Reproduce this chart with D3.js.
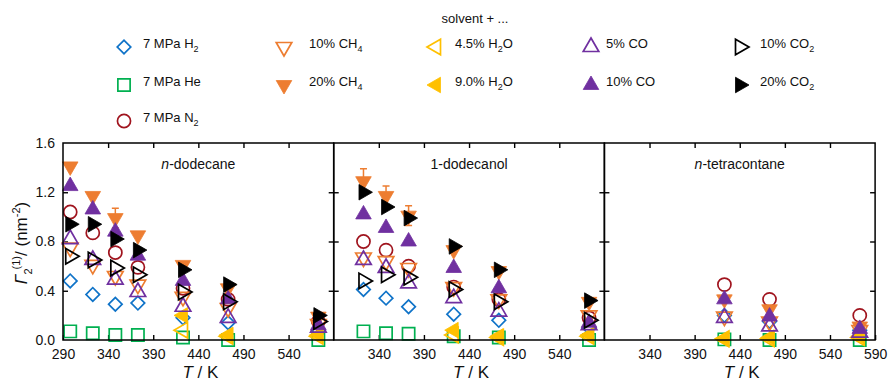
<!DOCTYPE html>
<html lang="en">
<head>
    <meta charset="UTF-8">
    <script src="https://d3js.org/d3.v7.min.js"></script>
    <title>Gamma2 vs T</title>
    <style>
        body { margin: 0px; background: #fff; }
        svg { font-family: "Liberation Sans", Arial, sans-serif; }
    </style>
</head>
<body>
<svg id="chart" width="896" height="386"></svg>
<script>
    // panels and their temperatures (K)
    const panelNames = ['n-dodecane', '1-dodecanol', 'n-tetracontane'];
    const tDodecane = [298, 323, 348, 373, 423, 473, 573];
    const tDodecanol = [323, 348, 373, 423, 473, 573];
    const tTetracontane = [423, 473, 573];
    const xTicksShown = [[290, 340, 390, 440, 490, 540], [340, 390, 440, 490, 540], [340, 390, 440, 490, 540, 590]];
    const yTicks = [0, 0.4, 0.8, 1.2, 1.6];

    // Gamma2(1) / nm^-2, one sub-array per panel
    const h2 = [[0.48, 0.37, 0.29, 0.30, 0.18, 0.14, 0.08], [0.41, 0.34, 0.27, 0.21, 0.16, 0.10], [0.20, 0.15, 0.08]];
    const he = [[0.07, 0.055, 0.04, 0.04, 0.02, 0.0, 0.0], [0.07, 0.055, 0.05, 0.03, 0.02, 0.0], [0.005, 0.0, 0.0]];
    const n2 = [[1.04, 0.87, 0.71, 0.59, 0.42, 0.33, 0.15], [0.80, 0.73, 0.60, 0.43, 0.33, 0.18], [0.45, 0.33, 0.20]];
    const ch4_10 = [[0.75, 0.61, 0.52, 0.45, 0.35, 0.26, 0.13], [0.67, 0.64, 0.585, 0.43, 0.33, 0.20], [0.19, 0.15, 0.08]];
    const ch4_20 = [[1.41, 1.17, 0.99, 0.85, 0.61, 0.42, 0.19], [1.29, 1.17, 1.01, 0.73, 0.56, 0.31], [0.33, 0.25, 0.11]];
    const ch4_20err = [[0, 0, 0.08, 0, 0, 0, 0], [0.10, 0.08, 0.08, 0, 0, 0], [0, 0, 0]];
    const h2o_45 = [[null, null, null, null, 0.08, 0.03, 0.03], [null, null, null, 0.04, 0.02, 0.03], [0.01, 0.01, 0.02]];
    const h2o_90 = [[null, null, null, null, 0.20, 0.04, 0.04], [null, null, null, 0.08, 0.03, 0.04], [0.005, 0.02, 0.03]];
    const co_5 = [[0.82, 0.65, 0.49, 0.39, 0.27, 0.18, 0.10], [0.65, 0.585, 0.46, 0.34, 0.23, 0.12], [0.18, 0.11, 0.06]];
    const co_10 = [[1.25, 1.06, 0.88, 0.685, 0.48, 0.33, 0.12], [1.02, 0.91, 0.80, 0.585, 0.42, 0.14], [0.33, 0.19, 0.09]];
    const co2_10 = [[0.68, 0.65, 0.585, 0.53, 0.39, 0.31, 0.15], [0.48, 0.53, 0.51, 0.41, 0.31, 0.16], []];
    const co2_20 = [[0.94, 0.94, 0.82, 0.73, 0.57, 0.45, 0.20], [1.20, 1.08, 0.99, 0.76, 0.57, 0.32], []];

    const temps = [tDodecane, tDodecanol, tTetracontane];

    // legend order = draw order
    const series = [
        { label: [['7 MPa H', ''], ['2', 'sub']], data: h2, shape: 'diamond', color: '#0f73c8', filled: false },
        { label: [['7 MPa He', '']], data: he, shape: 'square', color: '#00b050', filled: false },
        { label: [['7 MPa N', ''], ['2', 'sub']], data: n2, shape: 'circle', color: '#a0141e', filled: false },
        { label: [['10% CH', ''], ['4', 'sub']], data: ch4_10, shape: 'down', color: '#ed7d31', filled: false },
        { label: [['20% CH', ''], ['4', 'sub']], data: ch4_20, err: ch4_20err, shape: 'down', color: '#ed7d31', filled: true },
        { label: [['4.5% H', ''], ['2', 'sub'], ['O', '']], data: h2o_45, shape: 'left', color: '#ffc000', filled: false },
        { label: [['9.0% H', ''], ['2', 'sub'], ['O', '']], data: h2o_90, shape: 'left', color: '#ffc000', filled: true },
        { label: [['5% CO', '']], data: co_5, shape: 'up', color: '#7030a0', filled: false },
        { label: [['10% CO', '']], data: co_10, shape: 'up', color: '#7030a0', filled: true },
        { label: [['10% CO', ''], ['2', 'sub']], data: co2_10, shape: 'right', color: '#000000', filled: false },
        { label: [['20% CO', ''], ['2', 'sub']], data: co2_20, shape: 'right', color: '#000000', filled: true }
    ];

    const svg = d3.select('#chart');
    const plotLeft = 63, panelW = 270.7, plotTop = 143, plotBottom = 340;
    const yScale = d3.scaleLinear([0, 1.6], [plotBottom, plotTop]);

    function markerPath (shape) {
        if (shape == 'diamond') return d3.symbol(d3.symbolSquare, 92)();
        if (shape == 'square') return d3.symbol(d3.symbolSquare, 150)();
        if (shape == 'circle') return d3.symbol(d3.symbolCircle, 135)();
        return d3.symbol(d3.symbolTriangle, 105)();
    }
    function markerRot (shape) {
        return { diamond: 45, down: 180, left: -90, right: 90 }[shape] || 0;
    }
    function drawMarker (g, s, x, y) {
        g.append('path')
            .attr('d', markerPath(s.shape))
            .attr('transform', `translate(${x}, ${y}) rotate(${markerRot(s.shape)})`)
            .attr('fill', s.filled ? s.color : 'none')
            .attr('stroke', s.color)
            .attr('stroke-width', s.filled ? 0.8 : 1.7);
    }

    // panels
    panelNames.forEach((name, p) => {
        let x0 = plotLeft + p * panelW;
        let xScale = d3.scaleLinear([290, 590], [x0, x0 + panelW]);
        let g = svg.append('g');

        // ticks, all inward
        g.append('g').attr('transform', `translate(0, ${plotBottom})`)
            .call(d3.axisBottom(xScale).tickValues(xTicksShown[p]).tickSize(-5).tickPadding(9))
            .call(a => a.select('.domain').remove())
            .call(a => a.selectAll('text').attr('font-size', 14).attr('fill', '#111').attr('font-family', null));
        g.append('g').attr('transform', `translate(0, ${plotTop})`)
            .call(d3.axisTop(xScale).tickValues(xTicksShown[p].filter(v => v > 290 && v < 590)).tickSize(-5).tickFormat(''))
            .call(a => a.select('.domain').remove());
        g.append('g').attr('transform', `translate(${x0}, 0)`)
            .call(d3.axisLeft(yScale).tickValues(yTicks.slice(1, 4)).tickSize(-5).tickFormat(''))
            .call(a => a.select('.domain').remove());
        g.append('g').attr('transform', `translate(${x0 + panelW}, 0)`)
            .call(d3.axisRight(yScale).tickValues(yTicks.slice(1, 4)).tickSize(-5).tickFormat(''))
            .call(a => a.select('.domain').remove());
        g.selectAll('.tick line').attr('stroke-width', 1.4);

        // data
        let T = temps[p];
        series.forEach(s => {
            let vals = s.data[p];
            vals.forEach((v, i) => {
                if (v == null) return;
                if (s.err && s.err[p][i] > 0) {
                    let e = s.err[p][i];
                    g.append('path')
                        .attr('d', `M${xScale(T[i])} ${yScale(v - e)}L${xScale(T[i])} ${yScale(v + e)}M${xScale(T[i]) - 3.5} ${yScale(v + e)}L${xScale(T[i]) + 3.5} ${yScale(v + e)}M${xScale(T[i]) - 3.5} ${yScale(v - e)}L${xScale(T[i]) + 3.5} ${yScale(v - e)}`)
                        .attr('stroke', s.color)
                        .attr('stroke-width', 1.5)
                        .attr('fill', 'none');
                }
                drawMarker(g, s, xScale(T[i]), yScale(v));
            });
        });

        // frame
        g.append('rect')
            .attr('x', x0).attr('y', plotTop)
            .attr('width', panelW).attr('height', plotBottom - plotTop)
            .attr('fill', 'none').attr('stroke', '#000').attr('stroke-width', 1.5);

        // panel title
        let t = g.append('text')
            .attr('x', x0 + panelW / 2).attr('y', 169)
            .attr('text-anchor', 'middle').attr('font-size', 14).attr('fill', '#111');
        if (name.startsWith('n-')) {
            t.append('tspan').attr('font-style', 'italic').text('n');
            t.append('tspan').text(name.slice(1));
        } else {
            t.text(name);
        }

        // x label
        let xl = g.append('text')
            .attr('x', x0 + panelW / 2 + 2).attr('y', 378)
            .attr('text-anchor', 'middle').attr('font-size', 17).attr('fill', '#111');
        xl.append('tspan').attr('font-style', 'italic').text('T');
        xl.append('tspan').text(' / K');
    });

    // y tick labels
    svg.append('g').attr('transform', `translate(${plotLeft}, 0)`)
        .call(d3.axisLeft(yScale).tickValues(yTicks).tickSize(0).tickPadding(8).tickFormat(d3.format('.1f')))
        .call(a => a.select('.domain').remove())
        .call(a => a.selectAll('text').attr('font-size', 14).attr('fill', '#111').attr('font-family', null));

    // y label
    let yl = svg.append('text')
        .attr('transform', `translate(27, 243) rotate(-90)`)
        .attr('text-anchor', 'middle').attr('font-size', 17).attr('fill', '#111');
    yl.append('tspan').attr('font-style', 'italic').text('Γ');
    yl.append('tspan').attr('font-size', 11).attr('dy', 5).text('2');
    yl.append('tspan').attr('font-size', 11).attr('dy', -12).attr('dx', -1).text('(1)');
    yl.append('tspan').attr('dy', 7).text('/ (nm');
    yl.append('tspan').attr('font-size', 11).attr('dy', -7).text('-2');
    yl.append('tspan').attr('dy', 7).text(')');

    // legend
    svg.append('text').attr('x', 475).attr('y', 23).attr('text-anchor', 'middle')
        .attr('font-size', 13).attr('fill', '#111').text('solvent + ...');
    const legMarkX = [124, 284, 436, 591, 740];
    const legTextX = [143, 309, 455, 606, 760];
    const legRowY = [47, 85, 121];
    const legCells = [[0, 0, 0], [1, 0, 1], [2, 0, 2], [3, 1, 0], [4, 1, 1], [5, 2, 0], [6, 2, 1], [7, 3, 0], [8, 3, 1], [9, 4, 0], [10, 4, 1]];
    legCells.forEach(([si, c, r]) => {
        let s = series[si];
        let lg = svg.append('g');
        drawMarker(lg, s, legMarkX[c], legRowY[r]);
        let tx = lg.append('text').attr('x', legTextX[c]).attr('y', legRowY[r] + 5)
            .attr('font-size', 13).attr('fill', '#111');
        s.label.forEach(([txt, kind]) => {
            if (kind == 'sub') tx.append('tspan').attr('font-size', 9).attr('dy', 4).text(txt);
            else tx.append('tspan').attr('dy', tx.selectAll('tspan').size() ? -4 : 0).text(txt);
        });
    });
</script>
</body>
</html>
